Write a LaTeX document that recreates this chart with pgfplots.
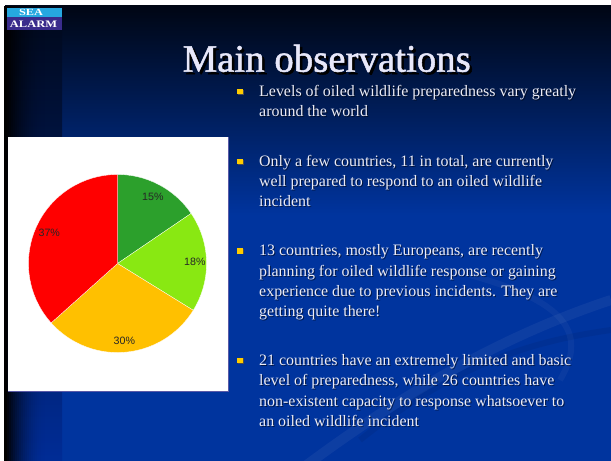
\documentclass[border=0pt]{standalone}
\usepackage{pgfplots}
\pgfplotsset{compat=1.18}
\usepackage{pgfplotstable}
\usepackage{fontspec}
\setmainfont{Liberation Serif}
\newfontfamily\arial{Liberation Sans}
\newfontfamily\ttlfont[FakeBold=1.3]{Liberation Serif}
\definecolor{bgtop}{RGB}{0,6,20}
\definecolor{bgblue}{RGB}{0,52,158}
\definecolor{coltop}{RGB}{0,8,26}
\definecolor{colbot}{RGB}{0,44,150}
\definecolor{pgreen}{RGB}{44,160,44}
\definecolor{plgreen}{RGB}{137,232,18}
\definecolor{porange}{RGB}{255,192,0}
\definecolor{pred}{RGB}{255,0,0}
\definecolor{txt}{RGB}{236,236,246}
\definecolor{ttl}{RGB}{232,232,250}
\definecolor{bul}{RGB}{255,204,0}
\definecolor{logocyan}{RGB}{38,168,224}
\definecolor{logopurple}{RGB}{58,44,140}

% counts of countries per preparedness level, and the printed percentages
\pgfplotstableread{
count pct
11 15
13 18
21 30
26 37
}\piedata
\pgfplotstablegetelem{0}{count}\of\piedata\edef\cA{\pgfplotsretval}
\pgfplotstablegetelem{1}{count}\of\piedata\edef\cB{\pgfplotsretval}
\pgfplotstablegetelem{2}{count}\of\piedata\edef\cC{\pgfplotsretval}
\pgfplotstablegetelem{3}{count}\of\piedata\edef\cD{\pgfplotsretval}
\pgfplotstablegetelem{0}{pct}\of\piedata\edef\pA{\pgfplotsretval}
\pgfplotstablegetelem{1}{pct}\of\piedata\edef\pB{\pgfplotsretval}
\pgfplotstablegetelem{2}{pct}\of\piedata\edef\pC{\pgfplotsretval}
\pgfplotstablegetelem{3}{pct}\of\piedata\edef\pD{\pgfplotsretval}
\pgfmathsetmacro\tot{\cA+\cB+\cC+\cD}
\pgfmathsetmacro\aA{90}
\pgfmathsetmacro\aB{\aA-360*\cA/\tot}
\pgfmathsetmacro\aC{\aB-360*\cB/\tot}
\pgfmathsetmacro\aD{\aC-360*\cC/\tot}
\pgfmathsetmacro\aE{\aD-360*\cD/\tot}
\pgfmathsetmacro\mA{(\aA+\aB)/2}
\pgfmathsetmacro\mB{(\aB+\aC)/2}
\pgfmathsetmacro\mC{(\aC+\aD)/2}
\pgfmathsetmacro\mD{(\aD+\aE)/2}

\newcommand\bline[2]{%
  \node[anchor=base west, inner sep=0pt, text=black, opacity=0.55] at (260,#1+1) {#2};%
  \node[anchor=base west, inner sep=0pt, text=txt] at (259,#1) {#2};}
\newcommand\bul[1]{%
  \fill[black!70] (238.1,#1-6.9) rectangle (244.1,#1-1.6);
  \fill[bul] (237.3,#1-7.7) rectangle (243.3,#1-2.4);}

\begin{document}
\begin{tikzpicture}[x=1bp,y=-1bp]
\useasboundingbox (0,0) rectangle (611,461);
\fill[white] (0,0) rectangle (611,461);
% background
\fill[bgblue] (5,6) rectangle (611,461);
\shade[top color=bgtop, bottom color=bgblue] (5,6) rectangle (611,215);
% swooshes
\draw[white, opacity=0.05, line width=10bp] (300,470) .. controls (420,380) and (520,330) .. (611,300);
\draw[white, opacity=0.04, line width=6bp] (470,275) .. controls (560,300) and (590,330) .. (560,380);
\draw[black, opacity=0.06, line width=6bp] (360,440) .. controls (460,360) and (540,340) .. (611,330);
% left column
\shade[top color=coltop, bottom color=colbot] (5,6) rectangle (62,461);
\foreach \i in {0,...,19} {
  \pgfmathsetmacro\op{(1-\i/20)^2}
  \fill[black, opacity=\op] ({5+2*\i},6) rectangle ({7.2+2*\i},461);
}
\fill[black] (4,6) rectangle (7,461);
% logo
\fill[logocyan] (7,8) rectangle (62,17);
\fill[logopurple] (7,17) rectangle (62,30);
\node[text=white, font=\bfseries\fontsize{9.5}{10}\selectfont, xscale=1.3, inner sep=0pt] at (31,12.8) {SEA};
\node[text=white, font=\bfseries\fontsize{10}{11}\selectfont, xscale=1.25, inner sep=0pt] at (33.5,24) {ALARM};
% title
\node[anchor=base, inner sep=0pt, text=black, font=\ttlfont\fontsize{39}{44}\selectfont] at (329.2,74.2) {Main observations};
\node[anchor=base, inner sep=0pt, text=ttl, font=\ttlfont\fontsize{39}{44}\selectfont] at (326.7,71.7) {Main observations};
% chart panel
\fill[white] (8,137) rectangle (228,391);
\draw[blue!30!gray, line width=0.6bp] (8,391) -- (228,391) -- (228,137);
\begin{axis}[at={(117.5bp,-263.5bp)}, anchor=center, x=89bp, y=89bp,
  xmin=-1, xmax=1, ymin=-1, ymax=1, hide axis, clip=false]
\addplot[fill=pgreen, draw=white, line width=0.3pt, domain=\aB:\aA, samples=60] ({cos(x)},{sin(x)}) -- (axis cs:0,0) -- cycle;
\addplot[fill=plgreen, draw=white, line width=0.3pt, domain=\aC:\aB, samples=60] ({cos(x)},{sin(x)}) -- (axis cs:0,0) -- cycle;
\addplot[fill=porange, draw=white, line width=0.3pt, domain=\aD:\aC, samples=80] ({cos(x)},{sin(x)}) -- (axis cs:0,0) -- cycle;
\addplot[fill=pred, draw=white, line width=0.3pt, domain=\aE:\aD, samples=90] ({cos(x)},{sin(x)}) -- (axis cs:0,0) -- cycle;
\node[font=\arial\fontsize{10.7}{12}\selectfont, text=black!85] at (axis cs:{0.85*cos(\mA)},{0.85*sin(\mA)}) {\pA\%};
\node[font=\arial\fontsize{10.7}{12}\selectfont, text=black!85] at (axis cs:{0.87*cos(\mB)},{0.87*sin(\mB)}) {\pB\%};
\node[font=\arial\fontsize{10.7}{12}\selectfont, text=black!85] at (axis cs:{0.87*cos(\mC)},{0.87*sin(\mC)}) {\pC\%};
\node[font=\arial\fontsize{10.7}{12}\selectfont, text=black!85] at (axis cs:{0.84*cos(\mD)},{0.84*sin(\mD)}) {\pD\%};
\end{axis}
% bullets
\begin{scope}[font=\fontsize{16}{20}\selectfont]
\bul{96.7}
\bline{96.7}{Levels of oiled wildlife preparedness vary greatly}
\bline{116.6}{around the world}
\bul{166.5}
\bline{166.5}{Only a few countries, 11 in total, are currently}
\bline{186.3}{well prepared to respond to an oiled wildlife}
\bline{206.1}{incident}
\bul{256}
\bline{256}{13 countries, mostly Europeans, are recently}
\bline{276.3}{planning for oiled wildlife response or gaining}
\bline{296.4}{experience due to previous incidents. They are}
\bline{316.4}{getting quite there!}
\bul{365.3}
\bline{365.3}{21 countries have an extremely limited and basic}
\bline{385.5}{level of preparedness, while 26 countries have}
\bline{406.2}{non-existent capacity to response whatsoever to}
\bline{426.3}{an oiled wildlife incident}
\end{scope}
\end{tikzpicture}
\end{document}
